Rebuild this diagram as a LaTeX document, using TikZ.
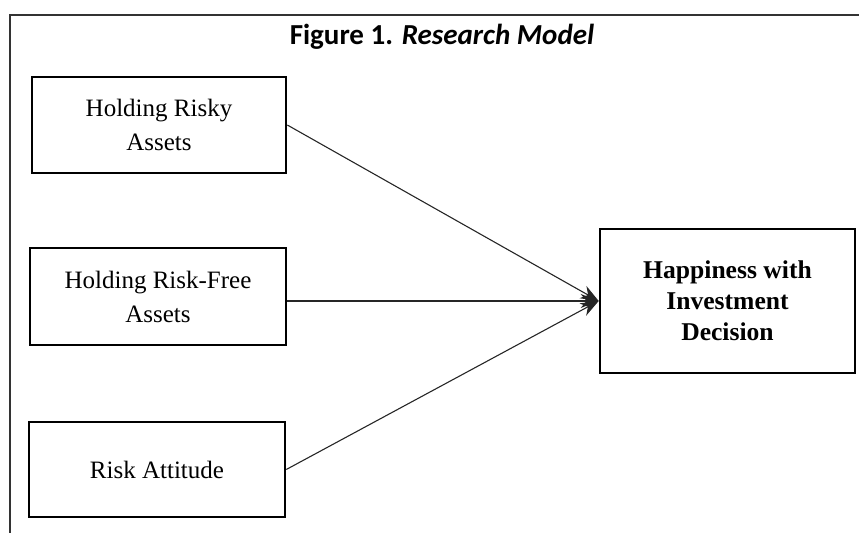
\documentclass[tikz,border=0pt]{standalone}
\usepackage{fontspec}
\setmainfont{Liberation Serif}
\newfontfamily\titlefont{Carlito}
\usetikzlibrary{arrows.meta}
\begin{document}
\begin{tikzpicture}[x=0.5pt,y=-0.5pt,
  framebox/.style={draw=black,line width=1.3pt,inner sep=0pt,align=center,
    font=\fontsize{12.5}{17}\selectfont},
  outcomebox/.style={framebox,font=\fontsize{12.8}{15.5}\selectfont\bfseries},
  link/.style={draw=black!85,line width=0.55pt},
  frameline/.style={draw=black!80,line width=1.2pt}]
\useasboundingbox (0,0) rectangle (859,533);
% outer frame (only top and left edges visible)
\coordinate (fc) at (10,533);
\coordinate (fa) at (10,15);
\coordinate (fb) at (859,15);
\draw[frameline] (fc) -- (fa) -- (fb);
% title
\node[font=\titlefont\fontsize{14.5}{17}\selectfont\bfseries] (title) at (442,37)
  {Figure 1. \textit{Research Model}};
% boxes
\node[framebox,minimum width=127pt,minimum height=48pt] (b1) at (159,125)
  {Holding Risky\\Assets};
\node[framebox,minimum width=128pt,minimum height=48.5pt] (b2) at (158,296.5)
  {Holding Risk-Free\\Assets};
\node[framebox,minimum width=128pt,minimum height=47.5pt] (b3) at (157,469.5)
  {Risk Attitude};
\node[outcomebox,minimum width=127.5pt,minimum height=72pt] (out) at (727.5,301)
  {Happiness with\\Investment\\Decision};
% connectors
\coordinate (tip) at (out.west);
\draw[link,-{Stealth[length=9pt,width=7pt]}] (b1.east) -- (tip);
\draw[link,-{Stealth[length=9pt,width=7pt]}] (b2.east |- tip) -- (tip);
\draw[link,-{Stealth[length=9pt,width=7pt]}] (b3.east) -- (tip);
\end{tikzpicture}
\end{document}
